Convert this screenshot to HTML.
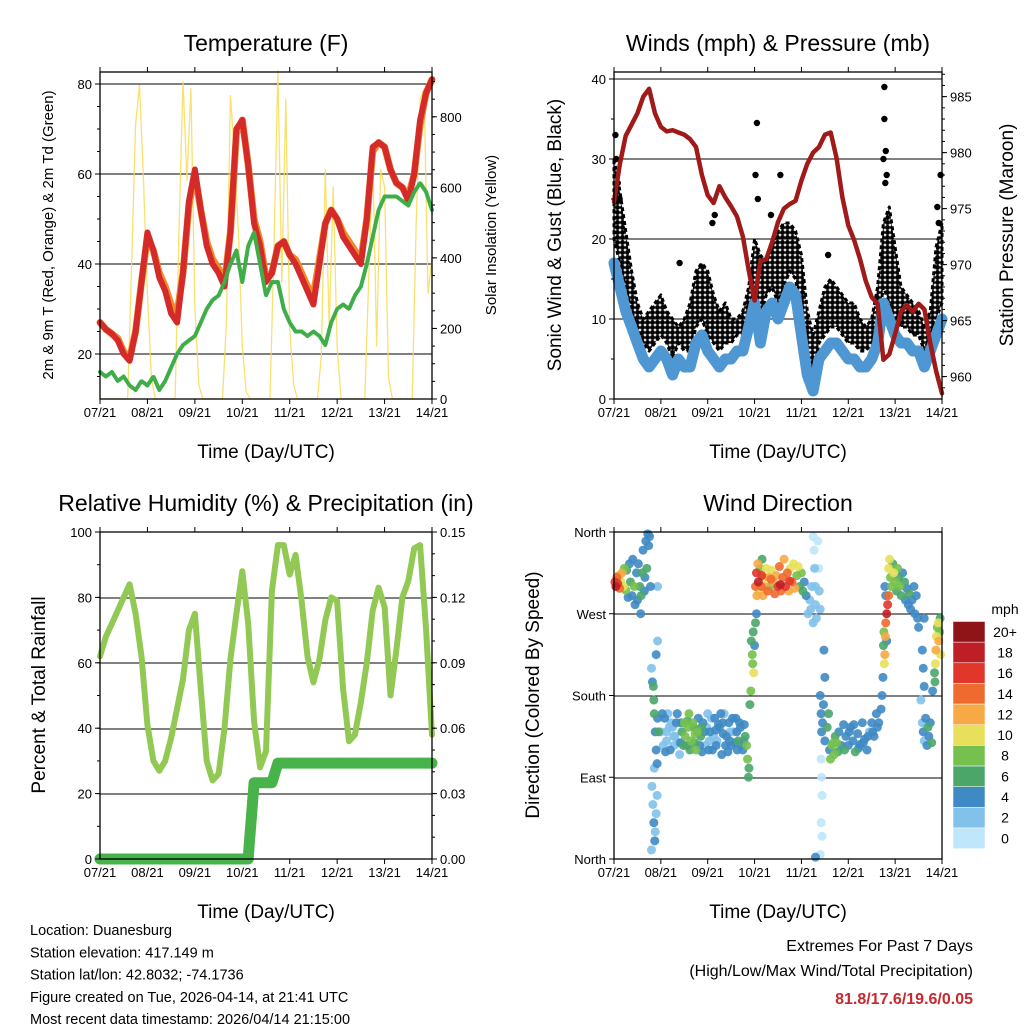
<!DOCTYPE html>
<html><head><meta charset="utf-8"><style>
body{margin:0;background:#fff;}
svg{display:block;font-family:"Liberation Sans",sans-serif;}
</style></head><body>
<svg id="c" width="1024" height="1024" viewBox="0 0 1024 1024" xmlns="http://www.w3.org/2000/svg">
<defs>
<pattern id="gustdots" width="5" height="5" patternUnits="userSpaceOnUse">
<circle cx="2.5" cy="2.5" r="2.5" fill="#000"/>
</pattern>
</defs>
</svg>
<script>
// ---------- data (3-hourly unless noted, t = 0..7 days from 07/21) ----------
const dayLabels = ["07/21","08/21","09/21","10/21","11/21","12/21","13/21","14/21"];
const temp2m = [27,25.5,24.5,23,20,18.5,25,36,47,43,37,34,29,27,38,54,61,52,44,40,38,35,47,70,72,62,49,44,36,38,44,45,42,40,37,34,31,40,49,52,50,46,44,42,40,50,66,67,66,61,58,57,54,60,72,78,81];
const temp9m = [27,25.5,24.5,23.5,20.5,19,25,36,46,43,38,35,31,29,38,53,60,52,45,41,39,36,47,69,72,62,50,45,37,38,44,45,42,41,38,35,33,41,49,52,50,47,45,43,41,50,65,67,66,61,58,57,55,60,71,78,81];
const dewpt = [16,15,16,14,15,13,12,14,13,15,12,14,17,20,22,23,24,27,30,32,33,36,40,43,36,44,47,40,33,36,36,30,27,25,25,24,25,24,22,27,30,31,30,33,35,40,46,52,55,55,55,54,53,56,58,56,52];
// solar every 2 h
const solar = [0,0,0,0,0,0,0,0,380,780,890,620,
  300,60,0,0,0,0,0,0,480,900,620,880,
  260,40,0,0,0,0,0,0,220,860,700,480,
  150,20,0,0,0,0,0,0,420,930,330,850,
  200,40,0,0,0,0,0,0,120,650,200,600,
  150,0,0,0,0,0,0,0,350,700,150,650,
  600,60,0,0,0,0,0,0,500,850,880,300,400];
const pressure = [975.6,979,981.5,982.5,983.5,985,985.7,983.5,982.3,981.9,982,981.8,981.6,981.2,980.5,978,976.2,975.5,977,976,975.2,974.3,972.5,969.5,966.8,970.3,970.5,972,973.8,975,975.4,975.7,977.5,979,980,980.5,981.6,981.8,979.5,976,973.5,972.2,970.5,968.5,967.1,966.5,961.5,962,963.8,965.8,966.4,965.8,966.5,966,963,960.5,958.5];
const windSpd = [17,14,11,9,7,5,4,5,6,5,3,5,4,4,7,8,6,5,4,5,5,6,6,9,12,7,11,12,10,12,14,13,8,3,1,5,6,7,7,6,5,5,4,4,5,7,12,10,8,7,7,6,6,4,6,8,10];
const gustLow = [20,17,14,11,9,7,6,7,8,7,5,7,6,6,9,10,8,7,6,7,7,8,8,11,14,10,13,14,12,14,16,15,10,5,3,7,8,9,9,8,7,7,6,6,7,9,14,12,10,9,9,8,8,6,8,10,12];
const gustHigh = [30,26,21,16,12,10,11,12,13,11,10,9,10,12,16,17,16,13,11,12,10,10,11,14,20,18,17,19,21,22,22,21,18,11,8,11,14,15,14,13,12,12,10,9,10,14,22,24,19,14,13,12,11,9,11,19,22];
const gustT = [0.05,0.03,0.08,3.05,3.07,3.55,3.35,5.77,5.77,5.8,5.82,6.97,6.93,4.57,1.4,2.15,2.1,0.12,6.9,5.79,5.75,3.02];
const gustV = [30,33,27,34.5,25,28,23,39,35,31,28,28,22,18,17,23,22,25,24,27,30,28];
const rh = [62,68,72,76,80,84,75,62,41,30,27,30,37,46,55,70,75,52,30,24,26,40,61,75,88,72,42,28,33,82,96,96,87,93,79,62,54,61,73,80,79,52,36,38,48,60,76,83,77,50,64,80,85,95,96,70,38];
const rain = [0,0,0,0,0,0,0,0,0,0,0,0,0,0,0,0,0,0,0,0,0,0,0,0,0,0,0.035,0.035,0.035,0.035,0.044,0.044,0.044,0.044,0.044,0.044,0.044,0.044,0.044,0.044,0.044,0.044,0.044,0.044,0.044,0.044,0.044,0.044,0.044,0.044,0.044,0.044,0.044,0.044,0.044,0.044,0.044];
// wind direction scatter: time (days), direction (deg), speed (mph)
const dirPts = [
[0.02,305,16],[0.04,300,18],[0.06,310,14],[0.08,303,16],[0.1,312,12],[0.12,298,14],[0.14,306,10],[0.17,315,11],[0.2,300,10],[0.22,320,8],[0.25,296,7],[0.27,318,6],[0.3,288,4],[0.33,325,4],[0.35,305,6],[0.38,290,4],[0.4,330,4],[0.43,300,7],[0.45,280,4],[0.48,315,4],[0.5,285,4],[0.52,325,4],[0.55,300,6],[0.57,270,4],[0.6,315,6],[0.62,340,4],[0.65,295,4],[0.68,350,4],[0.7,320,6],[0.72,358,4],[0.74,345,3],[0.76,355,4],[0.78,300,3],[0.58,290,6],[0.66,310,4],
[0.8,210,2],[0.82,195,4],[0.84,190,6],[0.85,175,6],[0.86,160,6],[0.88,140,4],[0.9,120,4],[0.92,105,4],[0.9,225,3],[0.93,155,4],[0.95,140,6],[0.81,80,2],[0.83,60,2],[0.85,40,4],[0.87,20,4],[0.8,10,2],[0.9,50,2],[0.92,70,2],[0.88,30,2],[0.86,100,2],[0.93,300,2],[0.93,240,2],
[1.0,140,2],[1.03,160,4],[1.05,125,2],[1.08,155,4],[1.1,118,4],[1.12,130,2],[1.15,160,2],[1.18,145,2],[1.2,120,4],[1.22,150,2],[1.25,145,2],[1.28,125,2],[1.3,135,2],[1.33,150,4],[1.35,160,4],[1.38,128,2],[1.4,115,2],[1.43,150,4],[1.45,140,6],[1.48,125,6],[1.5,150,8],[1.52,135,8],[1.55,125,6],[1.58,145,8],[1.6,160,8],[1.62,120,6],[1.65,130,8],[1.68,150,8],[1.7,145,6],[1.72,128,6],[1.75,120,8],[1.78,140,8],[1.8,155,4],[1.83,125,4],[1.85,135,6],[1.88,118,4],[1.9,150,4],[1.93,140,4],[1.95,125,2],[1.98,145,2],[2.0,160,2],[2.03,130,2],[2.05,140,4],[2.08,155,2],[2.1,120,4],[2.13,135,2],[2.15,155,4],[2.18,125,4],[2.2,130,2],[2.23,148,4],[2.25,145,4],[2.28,160,4],[2.3,115,4],[2.33,138,4],[2.35,160,2],[2.38,125,4],[2.4,135,4],[2.43,118,4],[2.45,150,4],[2.48,140,2],[2.5,125,4],[2.53,155,4],[2.55,140,2],[2.58,128,4],[2.6,155,4],[2.63,120,4],[2.65,130,6],[2.68,150,4],[2.7,145,4],[2.72,125,4],[2.75,120,4],[2.78,148,4],[2.8,135,6],[2.83,125,8],[2.85,110,8],[2.88,100,6],[2.87,90,6],
[1.12,140,2],[1.27,135,2],[1.42,128,4],[1.57,152,6],[1.73,138,8],[1.87,145,6],[2.02,120,4],[2.17,142,4],[2.32,150,4],[2.47,130,4],[2.62,140,4],[2.77,130,4],
[2.9,170,6],[2.92,185,8],[2.93,240,6],[2.95,225,8],[2.96,215,8],[2.97,250,6],[2.98,205,10],[3.0,235,4],[3.02,260,6],[3.04,270,4],
[3.02,300,14],[3.04,315,16],[3.05,290,12],[3.07,325,12],[3.08,305,18],[3.1,295,10],[3.12,320,8],[3.14,300,14],[3.16,330,6],[3.18,290,12],[3.2,310,10],[3.22,300,12],[3.25,320,10],[3.28,295,14],[3.3,310,12],[3.33,300,8],[3.36,318,10],[3.4,305,12],[3.43,292,14],[3.46,312,12],[3.5,300,16],[3.53,322,14],[3.56,295,14],[3.6,310,14],[3.63,330,12],[3.66,300,16],[3.7,315,14],[3.73,295,12],[3.76,320,10],[3.8,305,14],[3.83,325,10],[3.86,298,12],[3.9,312,8],[3.93,322,10],[3.96,300,6],[4.0,315,8],[4.03,295,6],[4.06,305,4],[4.1,290,4],[4.14,270,2],[4.18,285,2],[4.22,300,2],[4.25,260,2],[4.2,275,2],[3.55,302,18],[3.35,308,14],[3.75,306,16],[3.15,312,16],
[4.25,355,0],[4.27,340,0],[4.28,320,2],[4.3,300,2],[4.3,280,2],[4.32,265,2],[4.35,350,0],[4.37,320,0],[4.38,295,2],[4.4,275,2],[4.4,180,4],[4.42,160,4],[4.43,140,4],[4.42,110,0],[4.43,90,0],[4.44,70,0],[4.42,40,0],[4.44,25,0],[4.4,5,0],[4.3,2,4],
[4.45,150,4],[4.5,130,4],[4.55,145,6],[4.6,120,4],[4.62,110,8],[4.65,125,8],[4.7,115,8],[4.72,135,6],[4.75,128,8],[4.8,140,4],[4.85,125,4],[4.9,148,4],[4.92,120,6],[4.95,135,4],[5.0,125,4],[5.05,145,4],[5.1,130,4],[5.15,118,6],[5.2,138,4],[5.25,126,4],[5.3,150,4],[5.35,132,4],[5.4,120,4],[5.45,140,2],[5.5,150,4],[5.55,135,4],[5.6,160,4],[5.65,150,4],[5.7,165,4],[4.5,200,4],[4.48,230,4],[4.47,170,4],[4.58,160,6],[4.68,128,8],[4.78,118,6],[5.02,140,4],[5.12,148,4],[5.22,122,4],[5.32,128,4],[5.42,135,4],[5.52,140,4],[5.62,145,4],
[5.72,180,4],[5.74,200,4],[5.75,235,6],[5.76,250,8],[5.77,215,10],[5.78,225,12],[5.79,245,12],[5.8,260,14],[5.82,270,18],[5.84,280,16],[5.86,290,14],
[5.86,320,10],[5.88,330,10],[5.9,310,8],[5.92,300,8],[5.95,325,6],[5.97,315,10],[6.0,305,8],[6.03,295,6],[6.05,320,8],[6.08,310,6],[6.1,300,8],[6.13,290,6],[6.16,315,4],[6.2,305,6],[6.22,285,4],[6.25,298,4],[6.28,280,4],[6.3,292,6],[6.33,275,4],[6.36,285,4],[6.4,300,4],[6.42,270,4],[6.45,290,4],[6.48,265,4],[6.5,255,4],[5.82,240,4],[5.8,290,4],[5.78,300,4],
[6.55,175,2],[6.58,150,2],[6.6,140,4],[6.62,130,2],[6.65,155,4],[6.68,125,4],[6.7,145,6],[6.72,135,4],[6.75,150,4],[6.78,128,6],[6.6,210,4],[6.58,230,4],[6.62,265,4],[6.62,190,4],[6.8,185,4],
[6.84,205,6],[6.86,215,10],[6.87,230,12],[6.88,245,10],[6.9,255,8],[6.92,260,10],[6.93,240,12],[6.95,250,8],[6.96,265,6],[6.97,225,10],[6.85,195,6]
];
const speedLabels = ["20+","18","16","14","12","10","8","6","4","2","0"];
const speedColors = ["#8e1418","#be1e26","#e1362a","#ee6a2f","#f6a944","#e8e05a","#76c04d","#4ba66a","#3f8ac4","#82c1ea","#bfe6fa"];

// ---------- helpers ----------
const NS = "http://www.w3.org/2000/svg";
const svg = document.getElementById("c");
function mk(tag, attrs, name, parent) {
  const el = document.createElementNS(NS, tag);
  for (const k in attrs) el.setAttribute(k, attrs[k]);
  
  
  (parent || svg).appendChild(el);
  return el;
}
function txt(x, y, s, size, anchor, name, extra) {
  const a = Object.assign({x:x, y:y, "font-size":size, "text-anchor":anchor||"middle", fill:"#000"}, extra||{});
  const t = mk("text", a, name);
  t.textContent = s;
  return t;
}
function scale(d0, d1, r0, r1) { return v => r0 + (v - d0) * (r1 - r0) / (d1 - d0); }
function tIdx(i, n) { return i * 7 / (n - 1); }
function polyline(xs, ys, color, w, name, extra) {
  const pts = xs.map((x, i) => x.toFixed(1) + "," + ys[i].toFixed(1)).join(" ");
  return mk("polyline", Object.assign({points: pts, fill:"none", stroke: color, "stroke-width": w, "stroke-linejoin":"round", "stroke-linecap":"round"}, extra||{}), name);
}

function panel(p) {
  const X = scale(0, 7, p.x0, p.x1);
  p.grid.forEach(g => mk("line", {x1:p.x0, x2:p.x1, y1:g, y2:g, stroke:"#000", "stroke-width":1}, p.id + "-gridline"));
  dayLabels.forEach((lab, i) => {
    const x = X(i);
    mk("line", {x1:x, x2:x, y1:p.y1, y2:p.y1+5, stroke:"#000"}, p.id + "-x-tick");
    mk("line", {x1:x, x2:x, y1:p.y0, y2:p.y0-5, stroke:"#000"}, p.id + "-x-tick-top");
    txt(x, p.y1 + 18, lab, 13, "middle", p.id + "-x-tick-label");
  });
  txt((p.x0+p.x1)/2, p.y1 + 59, "Time (Day/UTC)", 19, "middle", p.id + "-x-axis-title");
  txt((p.x0+p.x1)/2, p.y0 - 21, p.title, 23, "middle", p.id + "-title");
  return X;
}
function frame(p) {
  mk("rect", {x:p.x0, y:p.y0, width:p.x1-p.x0, height:p.y1-p.y0, fill:"none", stroke:"#000", "stroke-width":1.3}, p.id + "-frame");
}
function leftTicks(p, vals, Y, fmt, minor) {
  if (minor) minor.forEach(v => mk("line", {x1:p.x0-3, x2:p.x0, y1:Y(v), y2:Y(v), stroke:"#000"}, p.id + "-left-minor-tick"));
  vals.forEach((v, i) => {
    mk("line", {x1:p.x0-5, x2:p.x0, y1:Y(v), y2:Y(v), stroke:"#000"}, p.id + "-left-tick");
    txt(p.x0 - 8, Y(v) + 5, fmt ? fmt[i] : String(v), 13, "end", p.id + "-left-tick-label");
  });
}
function rightTicks(p, vals, Y, fmt, minor) {
  if (minor) minor.forEach(v => mk("line", {x1:p.x1, x2:p.x1+3, y1:Y(v), y2:Y(v), stroke:"#000"}, p.id + "-right-minor-tick"));
  vals.forEach((v, i) => {
    mk("line", {x1:p.x1, x2:p.x1+5, y1:Y(v), y2:Y(v), stroke:"#000"}, p.id + "-right-tick");
    txt(p.x1 + 8, Y(v) + 5, fmt ? fmt[i] : String(v), 13, "start", p.id + "-right-tick-label");
  });
}
function vtitle(x, y, s, size, name) {
  txt(x, y, s, size, "middle", name, {transform: "rotate(-90 " + x + " " + y + ")"});
}
function range(a, b, s) { const r = []; for (let v = a; v <= b + 1e-9; v += s) r.push(+v.toFixed(4)); return r; }

// ---------- Panel 1: temperature ----------
(function(){
  const p = {id:"temp", x0:100, x1:432, y0:72, y1:399, title:"Temperature (F)", grid:[354,264,174,84]};
  const X = panel(p);
  const Y = scale(10, 82.67, 399, 72);
  const YS = scale(0, 927, 399, 72);
  const sx = solar.map((v, i) => X(tIdx(i, solar.length)));
  polyline(sx, solar.map(YS), "#f8dc55", 1.3, "solar-insolation-line", {opacity:0.85});
  const tx = temp2m.map((v, i) => X(tIdx(i, temp2m.length)));
  polyline(tx, temp9m.map(Y), "#f08a2c", 7, "temp-9m-line");
  polyline(tx, temp2m.map(Y), "#d42a2a", 6, "temp-2m-line");
  polyline(tx, dewpt.map(Y), "#3fae49", 4, "dewpoint-line", {"stroke-dasharray":"3 1.5"});
  frame(p);
  leftTicks(p, [20,40,60,80], Y, null, range(15, 80, 5));
  rightTicks(p, [0,200,400,600,800], YS, null, range(50, 900, 50));
  vtitle(53, 235, "2m & 9m T (Red, Orange) & 2m Td (Green)", 15, "temp-left-axis-title");
  vtitle(496, 235, "Solar Insolation (Yellow)", 15, "temp-right-axis-title");
})();

// ---------- Panel 2: winds & pressure ----------
(function(){
  const p = {id:"wind", x0:614, x1:942, y0:72, y1:399, title:"Winds (mph) & Pressure (mb)", grid:[319,239,159,79]};
  const X = panel(p);
  const Y = scale(0, 40.875, 399, 72);
  const YP = scale(958, 987.2, 399, 72);
  const n = gustHigh.length;
  const up = gustHigh.map((v, i) => X(tIdx(i, n)).toFixed(1) + "," + Y(v).toFixed(1));
  const dn = gustLow.map((v, i) => X(tIdx(i, n)).toFixed(1) + "," + Y(v).toFixed(1)).reverse();
  mk("polygon", {points: up.concat(dn).join(" "), fill:"url(#gustdots)", stroke:"#000", "stroke-width":3, "stroke-dasharray":"4 3", "stroke-linejoin":"round"}, "gust-band");
  gustT.forEach((t, i) => mk("circle", {cx:X(t), cy:Y(gustV[i]), r:3.2, fill:"#000"}, "gust-point"));
  const wx = windSpd.map((v, i) => X(tIdx(i, windSpd.length)));
  polyline(wx, windSpd.map(Y), "#4f97d2", 11, "sonic-wind-line");
  const px = pressure.map((v, i) => X(tIdx(i, pressure.length)));
  polyline(px, pressure.map(YP), "#a01a1a", 4.5, "pressure-line");
  frame(p);
  leftTicks(p, [0,10,20,30,40], Y, null, range(5, 40, 5));
  rightTicks(p, [960,965,970,975,980,985], YP, null, range(959, 987, 1));
  vtitle(561, 235, "Sonic Wind & Gust (Blue, Black)", 19, "wind-left-axis-title");
  vtitle(1013, 235, "Station Pressure (Maroon)", 19, "wind-right-axis-title");
})();

// ---------- Panel 3: RH & precip ----------
(function(){
  const p = {id:"rh", x0:100, x1:432, y0:532, y1:859, title:"Relative Humidity (%) & Precipitation (in)", grid:[794,729,663,598]};
  const X = panel(p);
  const Y = scale(0, 100, 859, 532);
  const YR = scale(0, 0.15, 859, 532);
  const rx = rh.map((v, i) => X(tIdx(i, rh.length)));
  polyline(rx, rh.map(Y), "#92c955", 6, "relative-humidity-line");
  const rnx = rain.map((v, i) => X(tIdx(i, rain.length)));
  const rpts = [];
  rain.forEach((v, i) => { if (i > 0 && v !== rain[i-1]) rpts.push([rnx[i] - 6, YR(rain[i-1])]); rpts.push([rnx[i], YR(v)]); });
  polyline(rpts.map(q => q[0]), rpts.map(q => q[1]), "#47b34a", 11, "precipitation-line");
  frame(p);
  leftTicks(p, [0,20,40,60,80,100], Y, null, range(10, 90, 10));
  rightTicks(p, [0,0.03,0.06,0.09,0.12,0.15], YR, ["0.00","0.03","0.06","0.09","0.12","0.15"], range(0.01, 0.15, 0.01));
  vtitle(45, 695, "Percent & Total Rainfall", 19, "rh-left-axis-title");
})();

// ---------- Panel 4: wind direction ----------
(function(){
  const p = {id:"dir", x0:614, x1:942, y0:532, y1:859, title:"Wind Direction", grid:[614,696,778]};
  const X = panel(p);
  const Y = scale(0, 360, 859, 532);
  function col(s) { let k = Math.round(s / 2); if (k > 10) k = 10; return speedColors[10 - k]; }
  const sorted = dirPts.slice().sort((a, b) => a[2] - b[2]);
  sorted.forEach(d => mk("circle", {cx:X(d[0]), cy:Y(d[1]), r:4.5, fill:col(d[2]), opacity:0.9}, "wind-direction-point"));
  frame(p);
  leftTicks(p, [360,270,180,90,0], Y, ["North","West","South","East","North"]);
  vtitle(539, 695, "Direction (Colored By Speed)", 19, "dir-left-axis-title");
  const cb0 = 621.5, ch = 20.65;
  speedLabels.forEach((lab, i) => {
    mk("rect", {x:953, y:cb0 + i*ch, width:32, height:ch, fill:speedColors[i], stroke:"#fff", "stroke-width":0.5}, "colorbar-box");
    txt(1005, cb0 + i*ch + ch/2 + 5, lab, 14, "middle", "colorbar-label");
  });
  txt(1005, 614, "mph", 14, "middle", "colorbar-title");
})();

// ---------- footer text ----------
const info = ["Location: Duanesburg","Station elevation: 417.149 m","Station lat/lon: 42.8032; -74.1736","Figure created on Tue, 2026-04-14, at 21:41 UTC","Most recent data timestamp: 2026/04/14 21:15:00"];
info.forEach((s, i) => txt(30, 935 + i*22.3, s, 14.5, "start", "station-info-line"));
txt(973, 951, "Extremes For Past 7 Days", 16, "end", "extremes-title");
txt(973, 976, "(High/Low/Max Wind/Total Precipitation)", 16, "end", "extremes-subtitle");
txt(973, 1004, "81.8/17.6/19.6/0.05", 16, "end", "extremes-values", {fill:"#c8282e", "font-weight":"bold"});
</script>
</body></html>
